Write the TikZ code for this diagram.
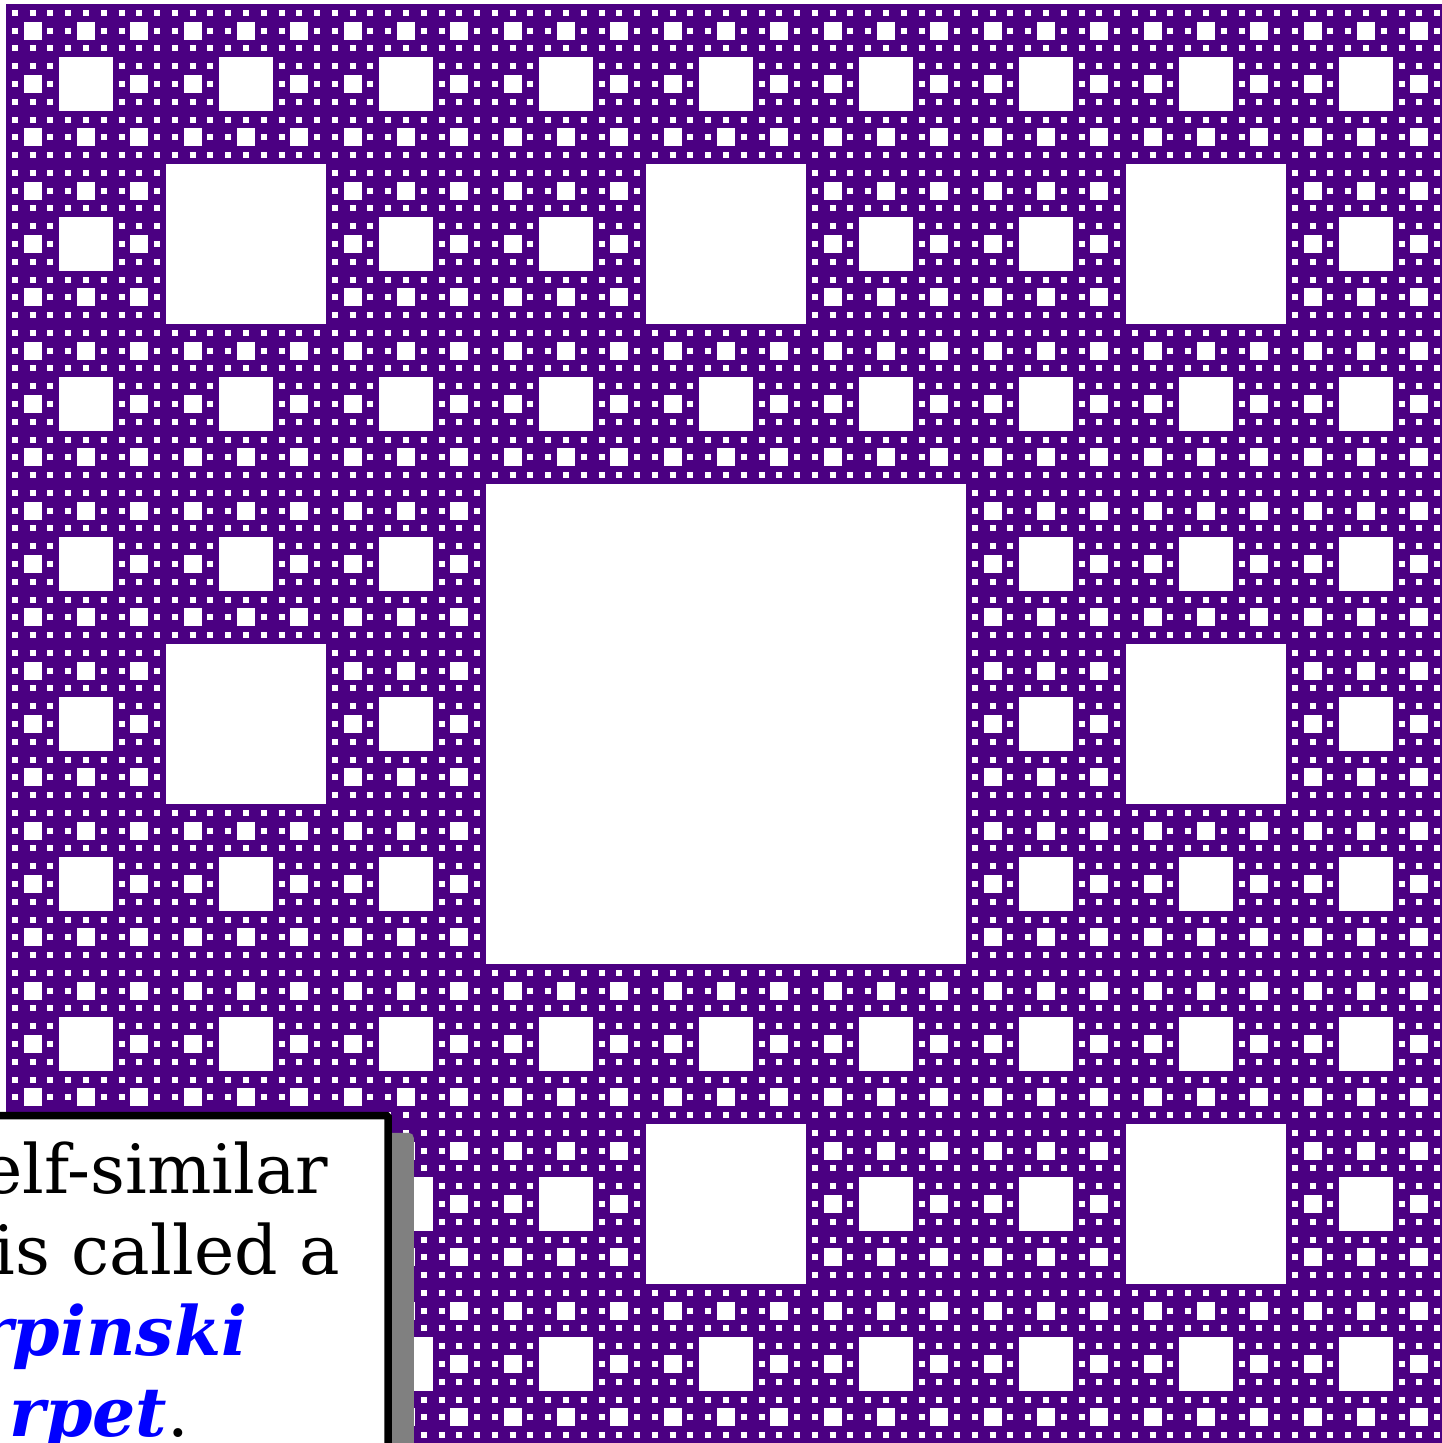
\documentclass[tikz,border=0pt]{standalone}
\usepackage{fontspec}
\setmainfont{DejaVu Serif}
\definecolor{carpetpurple}{RGB}{75,0,130}
\definecolor{shadowgray}{RGB}{128,128,128}
\begin{document}
\begin{tikzpicture}[x=1pt,y=-1pt,
  hole/.style={white, line width=#1},
  txt/.style={anchor=base east, inner sep=0pt, outer sep=0pt, font=\fontsize{68pt}{81pt}\selectfont},
  hl/.style={text=blue, font=\fontsize{68pt}{81pt}\selectfont\bfseries\itshape}]
\useasboundingbox (0,0) rectangle (1442,1443);
\clip (0,0) rectangle (1442,1443);
% carpet body
\fill[carpetpurple] (6,4) rectangle (1446,1444);
% holes, level by level, as rows of dashes
\foreach \k in {1,...,5}{
  \pgfmathsetmacro\s{1440/(3^\k)}
  \pgfmathsetmacro\ss{2*\s}
  \pgfmathtruncatemacro\n{3^(\k-1)-1}
  \foreach \j in {0,...,\n}{
    \pgfmathsetmacro\yy{4+(3*\j+1.5)*\s}
    \draw[hole=\s pt, dash pattern=on \s pt off \ss pt, dash phase=\ss pt]
      (6,\yy) -- (1446,\yy);
  }
}
% text box with shadow
\fill[shadowgray, rounded corners=5pt] (-300,1132.75) rectangle (413.75,1700);
\node[draw=black, fill=white, line width=7.5pt, rounded corners=1.5pt,
      minimum width=900pt, minimum height=700pt, inner sep=0pt, outer sep=0pt,
      anchor=north east] (box) at (388,1115.5) {};
\node[txt] (l1) at (328,1193) {This self-similar};
\node[txt] (l2) at (340,1274) {fractal is called a};
\node[txt, hl] (l3) at (247,1355) {Sierpinski};
\node[txt] (l4) at (189,1436) {{\bfseries\itshape\color{blue}ca\kern12pt rpet}.};
\end{tikzpicture}
\end{document}
